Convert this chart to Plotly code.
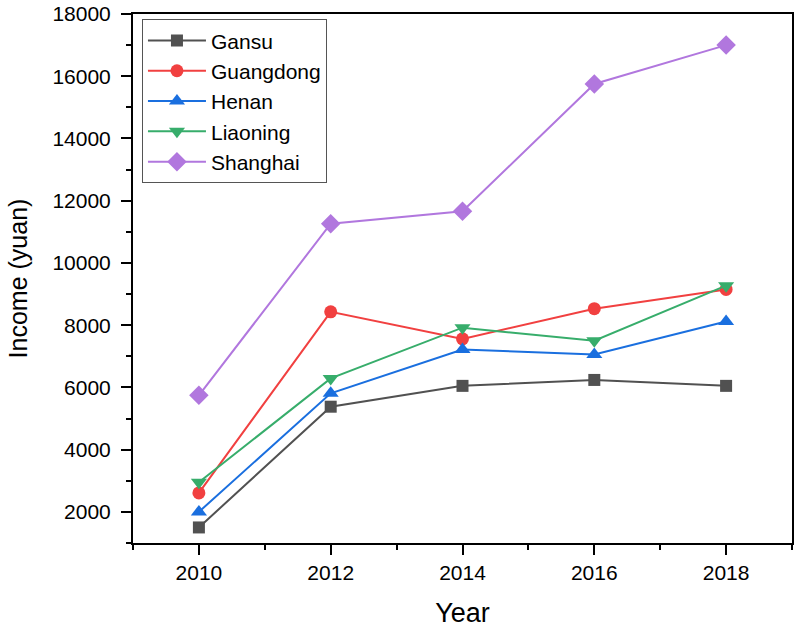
import plotly.graph_objects as go

years = [2010, 2012, 2014, 2016, 2018]
gansu = [1500, 5380, 6050, 6240, 6050]
guangdong = [2610, 8430, 7560, 8530, 9150]
henan = [2000, 5810, 7220, 7060, 8120]
liaoning = [2950, 6290, 7920, 7500, 9270]
shanghai = [5745, 11260, 11660, 15750, 17000]

series = [
    ("Gansu", gansu, "#515151", "square", 12),
    ("Guangdong", guangdong, "#F14040", "circle", 13),
    ("Henan", henan, "#1A6FDF", "triangle-up", 14),
    ("Liaoning", liaoning, "#37AD6B", "triangle-down", 14),
    ("Shanghai", shanghai, "#B177DE", "diamond", 15),
]

fig = go.Figure()
for name, vals, color, sym, sz in series:
    fig.add_trace(go.Scatter(
        x=years, y=vals, name=name, mode="lines+markers",
        line=dict(color=color, width=2),
        marker=dict(symbol=sym, size=sz, color=color, line=dict(width=0)),
    ))

fig.update_layout(
    width=796, height=635,
    margin=dict(l=133, r=2, t=12, b=92),
    paper_bgcolor="white", plot_bgcolor="white",
    font=dict(family="Arial, Liberation Sans, sans-serif", color="black"),
    showlegend=True,
    legend=dict(
        x=0.0136, y=0.99, xanchor="left", yanchor="top",
        bordercolor="#555555", borderwidth=1, bgcolor="white",
        font=dict(size=21, family="Arial, Liberation Sans, sans-serif"),
        tracegroupgap=0, itemwidth=58,
    ),
)

fig.update_xaxes(
    range=[2009, 2019], tickmode="array", tickvals=years,
    ticktext=[str(y) for y in years],
    ticks="outside", ticklen=10, tickwidth=2, tickcolor="black",
    showline=True, linewidth=2, linecolor="black", mirror=True,
    showgrid=False, zeroline=False,
    tickfont=dict(size=21, family="Liberation Sans Narrow, Arial Narrow, sans-serif"),
    ticklabelstandoff=0,
    minor=dict(dtick=1, tick0=2009, ticks="outside", ticklen=5, tickwidth=2, tickcolor="black", showgrid=False),
    title=dict(text="Year", font=dict(size=27, family="Liberation Sans Narrow, Arial Narrow, sans-serif"), standoff=20),
)
fig.update_yaxes(
    range=[1000, 18000], tick0=2000, dtick=2000, tickformat="d",
    ticks="outside", ticklen=10, tickwidth=2, tickcolor="black",
    showline=True, linewidth=2, linecolor="black", mirror=True,
    showgrid=False, zeroline=False,
    tickfont=dict(size=21),
    ticklabelstandoff=6,
    minor=dict(dtick=1000, tick0=1000, ticks="outside", ticklen=5, tickwidth=2, tickcolor="black", showgrid=False),
    title=dict(text="Income (yuan)", font=dict(size=25), standoff=18),
)

fig.write_html("out.html")
